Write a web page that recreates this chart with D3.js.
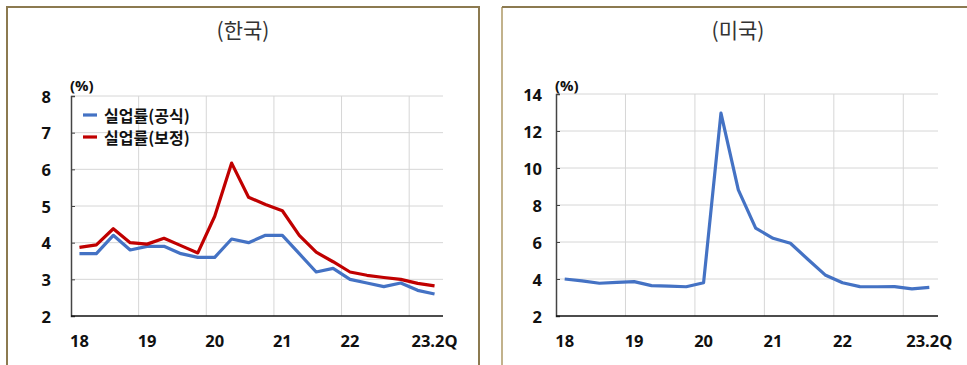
<!DOCTYPE html>
<html>
<head>
<meta charset="utf-8">
<script src="https://cdn.jsdelivr.net/npm/d3@7"></script>
<style>
  html, body { margin: 0; padding: 0; background: #fff; }
  svg text { font-family: "Noto Sans CJK KR", "Noto Sans", sans-serif; }
  svg text.num { font-family: "Open Sans", "Noto Sans", sans-serif; }
</style>
</head>
<body>
<svg id="chart" width="967" height="365"></svg>
<script>
// Quarterly unemployment rates, 2018Q1 – 2023Q2 (22 quarters)
const quarterTickIndex = [0, 4, 8, 12, 16, 21];
const quarterTickLabels = ["18", "19", "20", "21", "22", "23.2Q"];

const koreaOfficial = [3.7, 3.7, 4.2, 3.8, 3.9, 3.9, 3.7, 3.6, 3.6, 4.1, 4.0, 4.2,
                       4.2, 3.7, 3.2, 3.3, 3.0, 2.9, 2.8, 2.9, 2.7, 2.6];
const koreaAdjusted = [3.87, 3.94, 4.38, 4.0, 3.96, 4.12, 3.92, 3.72, 4.72, 6.17, 5.24, 5.04,
                       4.87, 4.2, 3.74, 3.48, 3.2, 3.11, 3.05, 3.0, 2.89, 2.82];
const usRate = [4.0, 3.9, 3.77, 3.82, 3.86, 3.64, 3.62, 3.58, 3.8, 12.97, 8.82, 6.75,
                6.2, 5.93, 5.07, 4.22, 3.8, 3.59, 3.58, 3.59, 3.47, 3.55];

const koreaTicks = [2, 3, 4, 5, 6, 7, 8];
const usTicks = [2, 4, 6, 8, 10, 12, 14];

const legendLabels = ["실업률(공식)", "실업률(보정)"];
const BLUE = "#4472c4", RED = "#c00000";

const svg = d3.select("#chart");

// Panel frames
const frame = svg.append("g");
frame.append("path")
  .attr("d", "M7,370 V7 H479 V370")
  .attr("fill", "none").attr("stroke", "#8c7a50").attr("stroke-width", 2);
frame.append("path")
  .attr("d", "M502,370 V7")
  .attr("fill", "none").attr("stroke", "#c2b28c").attr("stroke-width", 2);
frame.append("path")
  .attr("d", "M502,7 H970")
  .attr("fill", "none").attr("stroke", "#8c7a50").attr("stroke-width", 2);

function panel(opts) {
  const g = svg.append("g");
  const x = d3.scaleLinear().domain([0, 22]).range([opts.x0, opts.x1]);
  const y = d3.scaleLinear().domain(opts.yDomain).range([316, opts.yTop]);

  // title
  g.append("text")
    .attr("x", opts.titleX).attr("y", 38)
    .attr("text-anchor", "middle")
    .attr("font-size", 21).attr("fill", "#333")
    .text(opts.title);

  // horizontal gridlines
  g.selectAll(".hg").data(opts.yTicks.slice(1)).join("line")
    .attr("x1", x(0)).attr("x2", x(22))
    .attr("y1", d => y(d)).attr("y2", d => y(d))
    .attr("stroke", "#d6d6d6").attr("stroke-width", 1);

  // vertical gridlines at year boundaries
  g.selectAll(".vg").data([4, 8, 12, 16, 20]).join("line")
    .attr("x1", d => x(d)).attr("x2", d => x(d))
    .attr("y1", y(opts.yDomain[1])).attr("y2", y(opts.yDomain[0]))
    .attr("stroke", "#d6d6d6").attr("stroke-width", 1);

  // y axis with inner ticks
  const yAxis = d3.axisLeft(y).tickValues(opts.yTicks).tickSize(-4).tickFormat("");
  const ya = g.append("g").attr("transform", `translate(${x(0)},0)`).call(yAxis);
  ya.select(".domain").attr("stroke", "#444").attr("stroke-width", 1.5);
  ya.selectAll(".tick line").attr("stroke", "#444");

  g.selectAll(".yl").data(opts.yTicks).join("text")
    .attr("class", "num")
    .attr("x", opts.yLabelX).attr("y", d => y(d))
    .attr("text-anchor", "end").attr("dominant-baseline", "central")
    .attr("font-size", 16.5).attr("font-weight", "bold").attr("fill", "#111")
    .text(d => d);

  // x axis line
  g.append("line")
    .attr("x1", x(0)).attr("x2", x(22))
    .attr("y1", y(opts.yDomain[0])).attr("y2", y(opts.yDomain[0]))
    .attr("stroke", "#111").attr("stroke-width", 1.5);

  g.selectAll(".xl").data(quarterTickIndex).join("text")
    .attr("class", "num")
    .attr("x", d => x(d + 0.5)).attr("y", 340)
    .attr("text-anchor", "middle").attr("dominant-baseline", "central")
    .attr("font-size", 16.5).attr("font-weight", "bold").attr("fill", "#111")
    .text((d, i) => quarterTickLabels[i]);

  // unit label
  g.append("text")
    .attr("class", "num")
    .attr("x", x(0) - 1).attr("y", 85)
    .attr("dominant-baseline", "central")
    .attr("font-size", 15).attr("font-weight", "bold").attr("fill", "#111")
    .text("(%)");

  const line = d3.line().x((d, i) => x(i + 0.5)).y(d => y(d));
  opts.series.forEach(s => {
    g.append("path").datum(s.values)
      .attr("d", line)
      .attr("fill", "none").attr("stroke", s.color)
      .attr("stroke-width", 3.2).attr("stroke-linejoin", "round");
  });
  return { g, x, y };
}

const kr = panel({
  title: "(한국)", titleX: 243,
  x0: 71, x1: 443, yTop: 96, yDomain: [2, 8], yTicks: koreaTicks, yLabelX: 51,
  series: [
    { values: koreaOfficial, color: BLUE },
    { values: koreaAdjusted, color: RED }
  ]
});

panel({
  title: "(미국)", titleX: 738,
  x0: 556, x1: 938, yTop: 94, yDomain: [2, 14], yTicks: usTicks, yLabelX: 542,
  series: [{ values: usRate, color: BLUE }]
});

// legend (Korea panel)
const legend = kr.g.append("g");
[BLUE, RED].forEach((c, i) => {
  const ly = 115 + i * 22;
  legend.append("line")
    .attr("x1", 83).attr("x2", 97).attr("y1", ly).attr("y2", ly)
    .attr("stroke", c).attr("stroke-width", 3.2);
  legend.append("text")
    .attr("x", 104).attr("y", ly)
    .attr("dominant-baseline", "central")
    .attr("font-size", 16).attr("font-weight", "bold").attr("fill", "#111")
    .text(legendLabels[i]);
});
</script>
</body>
</html>
